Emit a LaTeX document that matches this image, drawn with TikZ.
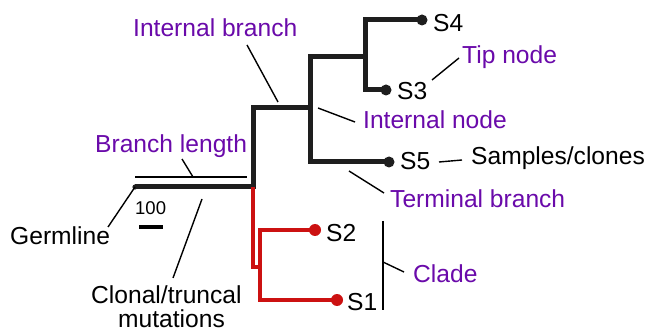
\documentclass[tikz,border=0pt]{standalone}
\usepackage{fontspec}
\setmainfont{Liberation Sans}
\definecolor{purp}{RGB}{106,10,170}
\definecolor{treered}{RGB}{204,17,17}
\definecolor{treeblack}{RGB}{30,30,30}
\begin{document}
\begin{tikzpicture}[x=1pt,y=-1pt,
  br/.style={line width=5pt,treeblack,line join=miter},
  rbr/.style={line width=4.5pt,treered,line join=miter},
  tip/.style={circle,fill=treeblack,inner sep=0pt,minimum size=11pt},
  rtip/.style={circle,fill=treered,inner sep=0pt,minimum size=12pt},
  lead/.style={line width=1.4pt,black},
  lbl/.style={anchor=base west,inner sep=0pt,font=\fontsize{24.6}{28}\selectfont},
  plbl/.style={lbl,text=purp}]
\useasboundingbox[fill=white] (0,0) rectangle (648,331);
% tree coordinates
\coordinate (germ) at (135,187);
\coordinate (root) at (253,187);
\coordinate (rootT) at (253,108);
\coordinate (rootB) at (253,267);
\coordinate (nB) at (310,108);
\coordinate (nC) at (365,57);
\coordinate (nD) at (260,267);
\node[tip] (s4) at (422,20) {};
\node[tip] (s3) at (386,90) {};
\node[tip] (s5) at (389,162) {};
\node[rtip] (s2) at (315,230) {};
\node[rtip] (s1) at (337,300) {};
% black branches
\draw[br] (s4.center) -| (nC) |- (s3.center);
\draw[br] (nC) -| (nB) |- (s5.center);
\draw[br] (nB) -- (rootT) -- (root) -- (germ);
\fill[treeblack] (germ) circle (2.6pt);
% red branches
\draw[rbr] (root) -- (rootB) -- (nD);
\draw[rbr] (s2.center) -| (nD) |- (s1.center);
% tip labels
\node[lbl] (l4) at (433,32) {S4};
\node[lbl] (l3) at (397,100) {S3};
\node[lbl] (l5) at (400,170) {S5};
\node[lbl] (l2) at (326,241) {S2};
\node[lbl] (l1) at (347,310) {S1};
% annotation labels
\node[plbl] (tInt) at (133,37) {Internal branch};
\node[plbl] (tTip) at (462,64) {Tip node};
\node[plbl] (tIN) at (363,129) {Internal node};
\node[lbl] (tSamp) at (471,165) {Samples/clones};
\node[plbl] (tTerm) at (390,208) {Terminal branch};
\node[plbl] (tClade) at (413,283) {Clade};
\node[plbl] (tBL) at (95,153) {Branch length};
\node[lbl] (tGerm) at (10,244) {Germline};
\node[anchor=base west,inner sep=0pt,font=\fontsize{18.5}{22}\selectfont] (t100) at (135,215) {100};
\node[lbl] (tClon) at (91,303) {Clonal/truncal};
\node[lbl] (tMut) at (118,327) {mutations};
% leader coordinates
\coordinate (a1) at (247,45);  \coordinate (a2) at (278,102);
\coordinate (b1) at (318,108); \coordinate (b2) at (355,122);
\coordinate (c1) at (432,80);  \coordinate (c2) at (459,58);
\coordinate (d1) at (439,162); \coordinate (d2) at (462,160);
\coordinate (e1) at (349,171); \coordinate (e2) at (384,193);
\coordinate (f1) at (383,221); \coordinate (f2) at (383,310);
\coordinate (f3) at (383,262); \coordinate (f4) at (404,272);
\coordinate (g1) at (135,177); \coordinate (g2) at (247,177);
\coordinate (g3) at (182,159); \coordinate (g4) at (193,177);
\coordinate (h1) at (108,227); \coordinate (h2) at (135,187);
\coordinate (k1) at (173,278); \coordinate (k2) at (202,199);
\coordinate (m1) at (139,227); \coordinate (m2) at (163,227);
% leaders
\draw[lead] (a1) -- (a2);
\draw[lead] (b1) -- (b2);
\draw[lead] (c1) -- (c2);
\draw[lead] (d1) -- (d2);
\draw[lead] (e1) -- (e2);
\draw[lead] (f1) -- (f2);
\draw[lead] (f3) -- (f4);
\draw[lead] (g1) -- (g2);
\draw[lead] (g3) -- (g4);
\draw[lead] (h1) -- (h2);
\draw[lead] (k1) -- (k2);
% scale bar
\draw[line width=4.5pt,black] (m1) -- (m2);
\end{tikzpicture}
\end{document}
